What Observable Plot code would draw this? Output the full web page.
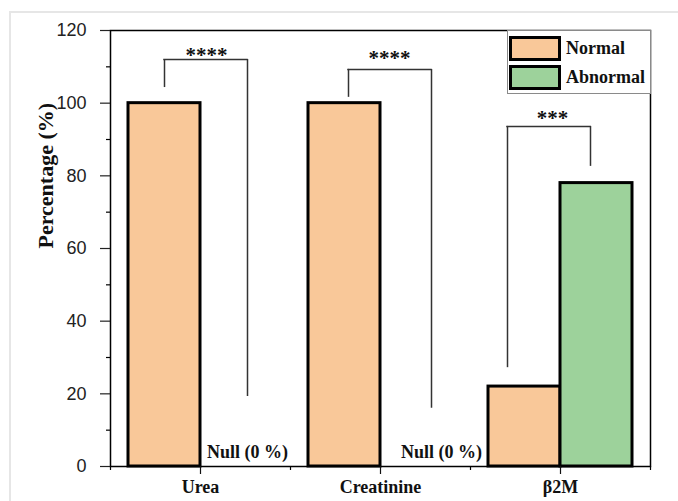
<!DOCTYPE html>
<html>
<head>
<meta charset="utf-8">
<script src="https://cdn.jsdelivr.net/npm/d3@7"></script>
<script src="https://cdn.jsdelivr.net/npm/@observablehq/plot@0.6"></script>
<style>
  html, body { margin: 0; padding: 0; background: #fff; }
  #wrap { position: relative; width: 678px; height: 501px; overflow: hidden; }
  #pageframe { position: absolute; left: 9px; top: 11px; width: 700px; height: 520px;
    border-left: 2px solid #e6e6e6; border-top: 2px solid #e6e6e6; }
  #chart { position: absolute; left: 0; top: 0; }
  #legend { position: absolute; left: 507px; top: 30px; width: 142px; height: 62px;
    border: 1px solid #8a8a8a; background: #fff; font-family: "Liberation Serif", serif;
    font-weight: bold; font-size: 18px; color: #111; }
  .item { position: absolute; left: 1px; display: flex; align-items: center; }
  .sw { width: 46px; height: 19px; border: 3px solid #000; margin-right: 5px; }
</style>
</head>
<body>
<div id="wrap">
  <div id="pageframe"></div>
  <div id="chart"></div>
  <div id="legend"></div>
</div>
<script>
const categories = ["Urea", "Creatinine", "β2M"];
const seriesNames = ["Normal", "Abnormal"];
const normalValues = [100, 100, 22];
const abnormalValues = [0, 0, 78];
const yTicks = [0, 20, 40, 60, 80, 100, 120];
const yMinorTicks = [10, 30, 50, 70, 90, 110];
const yLabel = "Percentage (%)";
const nullLabel = "Null (0 %)";
const stars = ["****", "****", "***"];
const bracketTop = [112, 109.3, 93.6];
const bracketLeftEnd = [104.3, 101.6, 27.2];
const bracketRightEnd = [19.3, 16, 82.6];

const colors = {Normal: "#F9C899", Abnormal: "#9DD29B"};

const rows = categories.map((c, i) => ({cat: c, normal: normalValues[i], abnormal: abnormalValues[i]}));
const nullRows = rows.filter(d => d.abnormal === 0);

function bracket(i, leftDx, rightDx, starDx, starDy) {
  const d = [{cat: categories[i], top: bracketTop[i], l: bracketLeftEnd[i], r: bracketRightEnd[i], s: stars[i]}];
  const st = {stroke: "#333", strokeWidth: 1.5};
  return [
    Plot.ruleX(d, {x: "cat", dx: leftDx, y1: "l", y2: "top", ...st}),
    Plot.ruleX(d, {x: "cat", dx: rightDx, y1: "r", y2: "top", ...st}),
    Plot.ruleY(d, {x1: "cat", x2: "cat", y: "top", insetLeft: 90 + leftDx - 0.75, insetRight: 90 - rightDx - 0.75, ...st}),
    Plot.text(d, {x: "cat", y: "top", text: "s", dx: starDx, dy: starDy, lineAnchor: "bottom",
      fontSize: 21, fontWeight: "bold", fontFamily: "Liberation Serif", fill: "#111"})
  ];
}

const serif = "Liberation Serif";

const chart = Plot.plot({
  width: 678,
  height: 501,
  marginLeft: 110,
  marginRight: 28,
  marginTop: 30,
  marginBottom: 35,
  x: {domain: categories, padding: 0},
  y: {domain: [0, 120]},
  style: {background: "transparent", overflow: "visible"},
  marks: [
    Plot.barY(rows, {x: "cat", y: "normal", fill: colors.Normal, stroke: "#000", strokeWidth: 3,
      insetLeft: 18, insetRight: 90}),
    Plot.barY(rows.filter(d => d.abnormal > 0), {x: "cat", y: "abnormal", fill: colors.Abnormal,
      stroke: "#000", strokeWidth: 3, insetLeft: 90, insetRight: 18}),
    ...bracket(0, -36, 47, 6, 2),
    ...bracket(1, -32, 51, 9, -4),
    ...bracket(2, -53, 30, -8, -1),
    Plot.text(nullRows.slice(0, 1), {x: "cat", y: 0, text: () => nullLabel, dx: 47, dy: -9,
      lineAnchor: "bottom", fontSize: 18, fontWeight: "bold", fontFamily: serif, fill: "#111"}),
    Plot.text(nullRows.slice(1, 2), {x: "cat", y: 0, text: () => nullLabel, dx: 61, dy: -9,
      lineAnchor: "bottom", fontSize: 18, fontWeight: "bold", fontFamily: serif, fill: "#111"}),
    Plot.frame({stroke: "#000", strokeWidth: 1.5}),
    Plot.axisY({ticks: yTicks, tickSize: 10, tickPadding: 14, fontSize: 18,
      fontFamily: "Liberation Sans", label: null, color: "#222", strokeWidth: 1.2}),
    Plot.axisY({ticks: yMinorTicks, tickSize: 4, tickFormat: () => "", label: null, strokeWidth: 1.2}),
    Plot.axisX({tickSize: 8, tickPadding: 6, fontSize: 18, fontWeight: "bold", fontFamily: serif,
      label: null, color: "#111", strokeWidth: 1.2}),
    Plot.ruleX(categories, {x: d => d, dx: -90, y1: 0, y2: -1.1, stroke: "#000", strokeWidth: 1.2}),
    Plot.ruleX(categories.slice(-1), {x: d => d, dx: 90, y1: 0, y2: -1.1, stroke: "#000", strokeWidth: 1.2}),
    Plot.text([yLabel], {frameAnchor: "left", rotate: -90, dx: -65, fontSize: 22, fontWeight: "bold",
      fontFamily: serif, fill: "#111"})
  ]
});
document.getElementById("chart").appendChild(chart);

const legend = document.getElementById("legend");
seriesNames.forEach((s, i) => {
  const item = document.createElement("div");
  item.className = "item";
  item.style.top = (5 + i * 29) + "px";
  const sw = document.createElement("div");
  sw.className = "sw";
  sw.style.background = colors[s];
  const t = document.createElement("span");
  t.textContent = s;
  item.appendChild(sw);
  item.appendChild(t);
  legend.appendChild(item);
});
</script>
</body>
</html>
